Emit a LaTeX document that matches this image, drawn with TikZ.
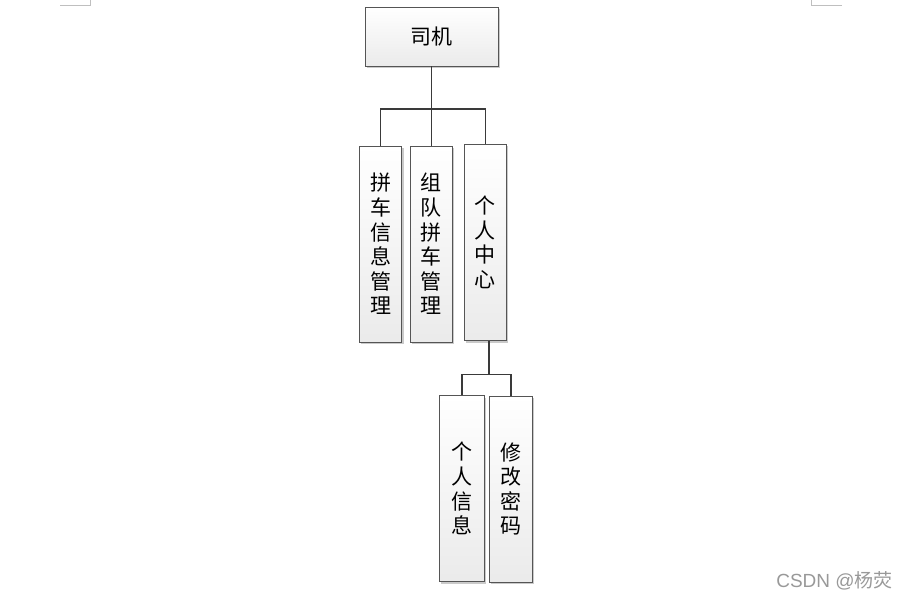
\documentclass[tikz,border=0pt]{standalone}
\usepackage{fontspec}
\newfontfamily\cjk{Noto Sans CJK SC}
\newfontfamily\wmlatin{Liberation Sans}
\usetikzlibrary{shadows,calc}
\definecolor{edge}{HTML}{555555}
\definecolor{wire}{HTML}{3a3a3a}
\tikzset{
  box/.style={draw=edge, line width=0.8pt, top color=white, bottom color=black!8,
    drop shadow={shadow xshift=2pt, shadow yshift=-2pt, fill=black!35, opacity=0.6},
    inner sep=0pt, align=center, font=\cjk\fontsize{21}{24.6}\selectfont},
  wirestyle/.style={draw=wire, line width=1.5pt},
  cornermark/.style={draw=black!25, line width=0.8pt}
}
\begin{document}
\begin{tikzpicture}[x=1pt,y=-1pt]
\useasboundingbox (0,0) rectangle (897,597);
\node[box, minimum width=133pt, minimum height=59pt] (top) at (431.5,36.5) {司机};
\node[box, minimum width=42.5pt, minimum height=196pt] (b1) at (380.5,244) {拼\\车\\信\\息\\管\\理};
\node[box, minimum width=42pt, minimum height=196pt] (b2) at (431.3,244) {组\\队\\拼\\车\\管\\理};
\node[box, minimum width=42pt, minimum height=196.5pt] (b3) at (485.3,242.5) {个\\人\\中\\心};
\node[box, minimum width=45pt, minimum height=186pt] (b4) at (461.8,488.7) {个\\人\\信\\息};
\node[box, minimum width=43pt, minimum height=186pt] (b5) at (510.8,489) {修\\改\\密\\码};
\coordinate (bar1) at (0,109);
\coordinate (bar2) at (0,374.3);
\coordinate (b3out) at ($(b3.south)+(3.5,0)$);
\draw[wirestyle] (top.south) -- (top.south |- b2.north);
\draw[wirestyle] (b1.north) -- (b1.north |- bar1) -- (b3.north |- bar1) -- (b3.north);
\draw[wirestyle] (b3out) -- (b3out |- bar2);
\draw[wirestyle] (b4.north) -- (b4.north |- bar2) -- (b5.north |- bar2) -- (b5.north);
\coordinate (tl1) at (60,5); \coordinate (tl2) at (90,5); \coordinate (tl3) at (90,0);
\draw[cornermark] (tl1) -- (tl2) -- (tl3);
\coordinate (tr1) at (842,5); \coordinate (tr2) at (811,5); \coordinate (tr3) at (811,0);
\draw[cornermark] (tr1) -- (tr2) -- (tr3);
\node[text=black!40, font=\fontsize{19}{21}\selectfont, inner sep=0pt] (wm) at (834.5,581) {\wmlatin CSDN @\cjk 杨荧};
\end{tikzpicture}
\end{document}
